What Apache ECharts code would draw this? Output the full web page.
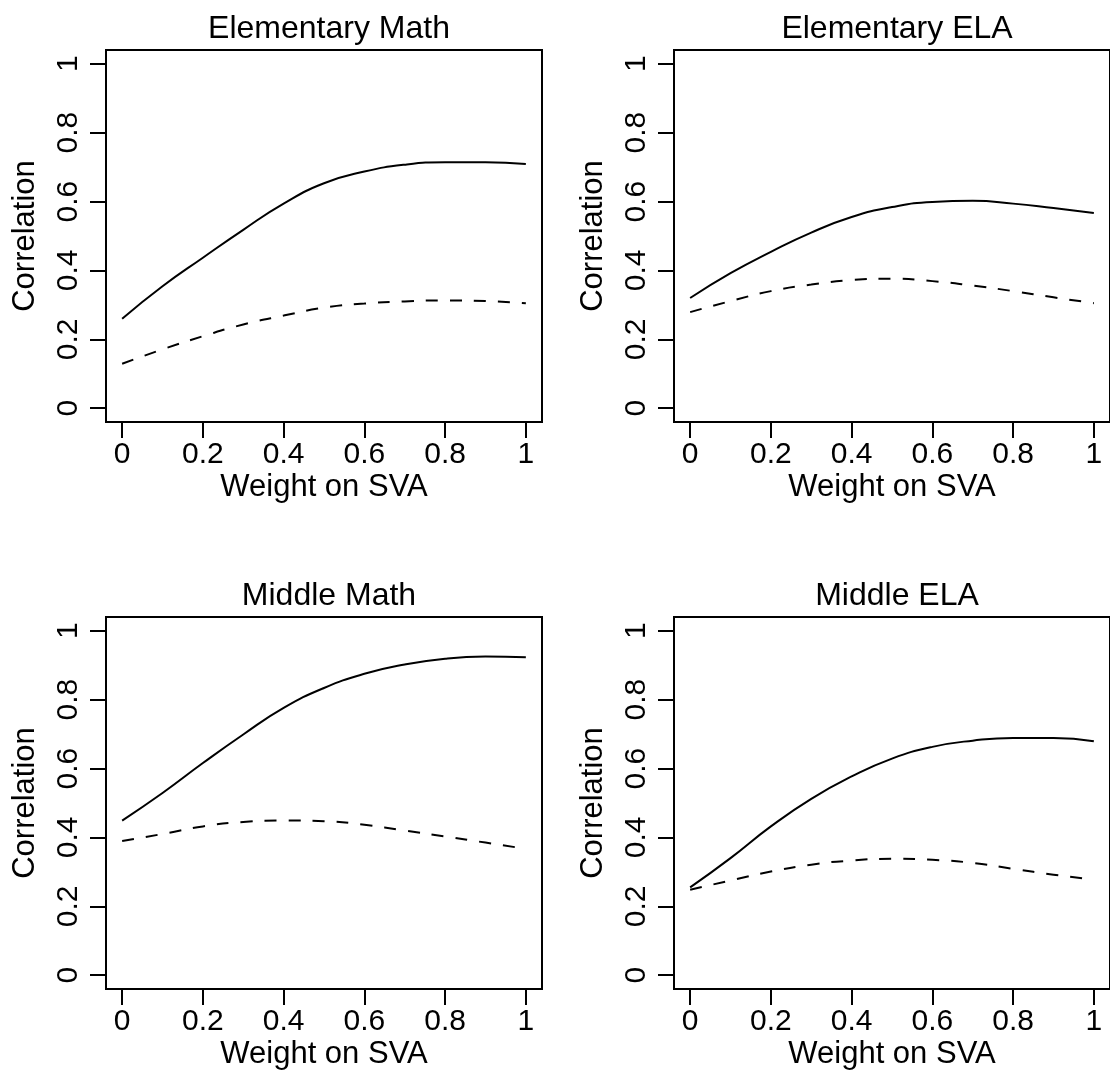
<!DOCTYPE html>
<html>
<head>
<meta charset="utf-8">
<title>Correlation by weight on SVA</title>
<script src="https://cdn.jsdelivr.net/npm/echarts@6/dist/echarts.min.js"></script>
<style>
    html, body { margin: 0; padding: 0; background: #fff; }
    #chart { width: 1110px; height: 1084px; }
</style>
</head>
<body>
<div id="chart"></div>
<script>
// weight on SVA (x) and the two curves of each panel
const weights = [0, 0.1, 0.2, 0.3, 0.4, 0.5, 0.6, 0.7, 0.8, 0.9, 1];
const tickValues = [0, 0.2, 0.4, 0.6, 0.8, 1];

const elemMathSolid = [0.26, 0.354, 0.437, 0.518, 0.594, 0.653, 0.687, 0.707, 0.714, 0.714, 0.709];
const elemMathDashed = [0.129, 0.171, 0.209, 0.243, 0.269, 0.292, 0.304, 0.31, 0.313, 0.311, 0.305];

const elemElaSolid = [0.32, 0.392, 0.454, 0.51, 0.555, 0.584, 0.599, 0.602, 0.594, 0.581, 0.567];
const elemElaDashed = [0.279, 0.311, 0.34, 0.359, 0.372, 0.376, 0.369, 0.356, 0.34, 0.322, 0.305];

const midMathSolid = [0.449, 0.529, 0.616, 0.699, 0.776, 0.834, 0.875, 0.902, 0.919, 0.925, 0.923];
const midMathDashed = [0.39, 0.41, 0.432, 0.445, 0.449, 0.447, 0.437, 0.42, 0.403, 0.385, 0.367];

const midElaSolid = [0.255, 0.34, 0.432, 0.512, 0.577, 0.629, 0.663, 0.681, 0.689, 0.689, 0.679];
const midElaDashed = [0.248, 0.275, 0.301, 0.321, 0.333, 0.338, 0.335, 0.326, 0.309, 0.292, 0.277];

const FONT = '"Liberation Sans", Arial, sans-serif';

const panels = [
    { title: "Elementary Math", left: 106, top: 50, solid: elemMathSolid, dashed: elemMathDashed },
    { title: "Elementary ELA", left: 674, top: 50, solid: elemElaSolid, dashed: elemElaDashed },
    { title: "Middle Math", left: 106, top: 617, solid: midMathSolid, dashed: midMathDashed },
    { title: "Middle ELA", left: 674, top: 617, solid: midElaSolid, dashed: midElaDashed }
];
const PW = 436, PH = 372;

function fmt(v) {
    return String(Math.round(v * 10) / 10);
}

function pairs(ys) {
    return weights.map((x, i) => [x, ys[i]]);
}

const chart = echarts.init(document.getElementById("chart"));

const grids = [], xAxes = [], yAxes = [], titles = [], series = [];

panels.forEach((p, i) => {
    grids.push({
        left: p.left, top: p.top, width: PW, height: PH,
        show: true, borderColor: "#000", borderWidth: 2,
        backgroundColor: "transparent"
    });
    titles.push({
        text: p.title,
        left: p.left + PW / 2,
        top: p.top - 42,
        textAlign: "center",
        textStyle: { fontFamily: FONT, fontSize: 32, fontWeight: "normal", color: "#000" }
    });
    const common = {
        type: "value",
        gridIndex: i,
        min: -0.04,
        max: 1.04,
        axisLine: { show: false, onZero: false },
        splitLine: { show: false },
        axisTick: {
            show: true, inside: false, customValues: tickValues, length: 16,
            lineStyle: { color: "#000", width: 2 }
        },
        nameLocation: "middle",
        nameTextStyle: { fontFamily: FONT, fontSize: 31, color: "#000" }
    };
    xAxes.push(Object.assign({}, common, {
        name: "Weight on SVA",
        nameGap: 50,
        axisLabel: {
            customValues: tickValues, formatter: fmt, margin: 18,
            fontFamily: FONT, fontSize: 30, color: "#000"
        }
    }));
    yAxes.push(Object.assign({}, common, {
        name: "Correlation",
        nameGap: 65,
        axisLabel: {
            customValues: tickValues, formatter: fmt, margin: 22, rotate: 90,
            fontFamily: FONT, fontSize: 30, color: "#000"
        }
    }));
    series.push({
        type: "line", xAxisIndex: i, yAxisIndex: i,
        data: pairs(p.solid), smooth: true, showSymbol: false,
        lineStyle: { color: "#000", width: 2 }
    });
    series.push({
        type: "line", xAxisIndex: i, yAxisIndex: i,
        data: pairs(p.dashed), smooth: true, showSymbol: false,
        lineStyle: { color: "#000", width: 2, type: [12, 12] }
    });
});

chart.setOption({
    animation: false,
    backgroundColor: "#fff",
    title: titles,
    grid: grids,
    xAxis: xAxes,
    yAxis: yAxes,
    series: series
});
</script>
</body>
</html>
